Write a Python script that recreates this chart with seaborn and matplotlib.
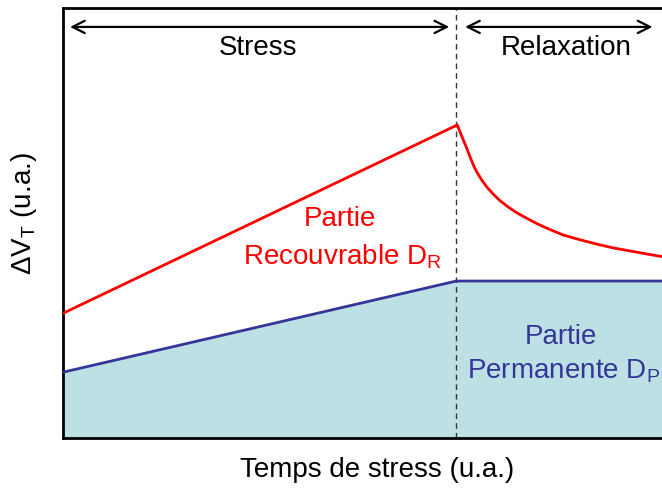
import matplotlib
matplotlib.use("Agg")
import matplotlib.pyplot as plt
import seaborn as sns
import pandas as pd

# Stress phase ends at t_stress, relaxation runs to t_end (arbitrary units)
t_stress = 6.5
t_end = 10.0

# Recoverable + permanent degradation (red)
red_t = [0.0, 6.517, 6.562, 6.617, 6.673, 6.727, 6.782, 6.838, 6.921,
         7.003, 7.112, 7.223, 7.360, 7.499, 7.664, 7.856, 7.995, 8.269,
         8.545, 8.821, 9.096, 9.372, 9.648, 9.896, 10.0]
red_v = [2.90, 7.28, 7.12, 6.93, 6.74, 6.54, 6.35, 6.19, 6.00,
         5.84, 5.67, 5.52, 5.37, 5.24, 5.11, 4.97, 4.88, 4.72,
         4.61, 4.51, 4.42, 4.35, 4.28, 4.22, 4.20]

# Permanent degradation (blue)
blue_t = [0.0, 6.5, 10.0]
blue_v = [1.53, 3.65, 3.65]

phase_labels = ["Stress", "Relaxation"]

sns.set_style("white")
plt.rcParams["font.family"] = ["Liberation Sans", "DejaVu Sans"]
plt.rcParams["text.color"] = "black"
plt.rcParams["mathtext.fontset"] = "custom"
plt.rcParams["mathtext.rm"] = "Liberation Sans"
plt.rcParams["mathtext.it"] = "Liberation Sans"

W, H = 662, 491
fig = plt.figure(figsize=(W / 100, H / 100), dpi=100)
ax = fig.add_axes([63 / W, (H - 438) / H, 605 / W, 430 / H])

red_df = pd.DataFrame({"t": red_t, "v": red_v})
blue_df = pd.DataFrame({"t": blue_t, "v": blue_v})

ax.fill_between(blue_t, 0, blue_v, color="#bce0e3", lw=0, zorder=1)
sns.lineplot(data=blue_df, x="t", y="v", ax=ax, color="#35359a", lw=2, zorder=3)
sns.lineplot(data=red_df, x="t", y="v", ax=ax, color="#ff0000", lw=2, zorder=3)

ax.axvline(t_stress, color="#333333", lw=1, ls=(0, (4, 3)), zorder=2)

ax.set_xlim(0, t_end)
ax.set_ylim(0, 10)
ax.set_xticks([])
ax.set_yticks([])
ax.set_xlabel("")
ax.set_ylabel("")
for s in ax.spines.values():
    s.set_color("black")
    s.set_linewidth(2)

# Phase arrows
arrow_y = 9.56
ap = dict(arrowstyle="<->", color="black", lw=1.6, mutation_scale=22)
ax.annotate("", xy=(0.07, arrow_y), xytext=(6.43, arrow_y), arrowprops=ap)
ax.annotate("", xy=(6.6, arrow_y), xytext=(9.79, arrow_y), arrowprops=ap)
ax.text(3.22, 9.07, phase_labels[0], ha="center", va="center", fontsize=20)
ax.text(8.31, 9.07, phase_labels[1], ha="center", va="center", fontsize=20)

# Region labels
ax.text(4.57, 5.09, "Partie", ha="center", va="center", fontsize=20, color="#ff0000")
ax.text(4.62, 4.22, "Recouvrable D$_\\mathregular{R}$", ha="center", va="center",
        fontsize=20, color="#ff0000")
ax.text(8.23, 2.35, "Partie", ha="center", va="center", fontsize=20, color="#35359a")
ax.text(8.28, 1.55, "Permanente D$_\\mathregular{P}$", ha="center", va="center",
        fontsize=20, color="#35359a")

fig.text(377 / W, 1 - 470 / H, "Temps de stress (u.a.)", ha="center", va="center",
         fontsize=20)
fig.text(24 / W, 1 - 214 / H, "ΔV$_\\mathregular{T}$ (u.a.)", ha="center", va="center",
         fontsize=20, rotation=90)

fig.savefig("out.png", dpi=100)
